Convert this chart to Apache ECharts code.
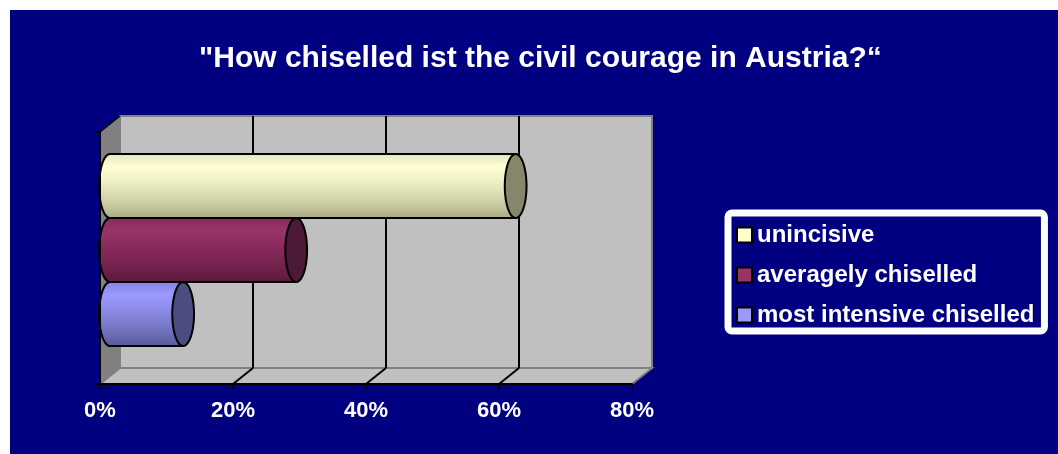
<!DOCTYPE html>
<html><head><meta charset="utf-8">
<script src="https://cdn.jsdelivr.net/npm/echarts@6/dist/echarts.min.js"></script>
<style>html,body{margin:0;padding:0;background:#fff;}#c{position:absolute;left:10px;top:10px;width:1048px;height:444px;}</style>
</head><body><div id="c"></div>
<script>
// ---- data ----
const titleText = '"How chiselled ist the civil courage in Austria?\u201C';
const categories = [''];
const seriesNames = ['unincisive', 'averagely chiselled', 'most intensive chiselled'];
const seriesValues = [61, 28, 11];
const xTicks = [0, 20, 40, 60, 80];

// ---- styles ----
const DX = 20, DY = 16; // 3D depth
const bodyStops = [
  [[0, '#e4e4bc'], [0.2, '#ffffd2'], [0.45, '#eeeec4'], [0.8, '#c8c8a0'], [1, '#a8a886']],
  [[0, '#86295a'], [0.2, '#9a3468'], [0.5, '#86295a'], [0.8, '#6e2049'], [1, '#5a1a3c']],
  [[0, '#8484e6'], [0.22, '#9a9aff'], [0.5, '#8686e0'], [0.8, '#6e6eb8'], [1, '#565696']]
];
const capColors = ['#86866a', '#4c1a36', '#4c4c80'];
const legendColors = ['#ffffcc', '#993366', '#9999ff'];

function grad(stops) {
  return { type: 'linear', x: 0, y: 0, x2: 0, y2: 1,
    colorStops: stops.map(s => ({ offset: s[0], color: s[1] })) };
}
function ellipsePts(cx, cy, rx, ry, a0, a1, n) {
  const pts = [];
  for (let k = 0; k <= n; k++) {
    const a = a0 + (a1 - a0) * k / n;
    pts.push([cx + rx * Math.cos(a), cy + ry * Math.sin(a)]);
  }
  return pts;
}

function frameRender(params, api) {
  const band = api.size([0, 1])[1];
  const c = api.coord([0, 0]);
  const top = c[1] - band / 2, bot = c[1] + band / 2;
  const xl = api.coord([xTicks[0], 0])[0];
  const xr = api.coord([xTicks[xTicks.length - 1], 0])[0];
  const ch = [];
  ch.push({ type: 'rect', shape: { x: xl + DX, y: top - DY, width: xr - xl, height: bot - top },
    style: { fill: '#c0c0c0', stroke: '#808080', lineWidth: 2 } });
  ch.push({ type: 'polygon', shape: { points: [[xl, top], [xl + DX, top - DY], [xl + DX, bot - DY], [xl, bot]] },
    style: { fill: '#808080', stroke: '#808080', lineWidth: 1 } });
  ch.push({ type: 'polygon', shape: { points: [[xl, bot], [xl + DX, bot - DY], [xr + DX, bot - DY], [xr, bot]] },
    style: { fill: '#c0c0c0', stroke: '#808080', lineWidth: 2 } });
  for (let i = 1; i < xTicks.length - 1; i++) {
    const x = api.coord([xTicks[i], 0])[0];
    ch.push({ type: 'line', shape: { x1: x + DX, y1: top - DY, x2: x + DX, y2: bot - DY },
      style: { stroke: '#000', lineWidth: 2 } });
    ch.push({ type: 'line', shape: { x1: x, y1: bot, x2: x + DX, y2: bot - DY },
      style: { stroke: '#000', lineWidth: 2 } });
  }
  ch.push({ type: 'line', shape: { x1: xl, y1: top, x2: xl + DX, y2: top - DY },
    style: { stroke: '#000', lineWidth: 1.5 } });
  return { type: 'group', children: ch };
}

function cylRender(idx) {
  return function (params, api) {
    const v = api.value(0);
    const c0 = api.coord([0, 0]);
    const c1 = api.coord([v, 0]);
    const band = api.size([0, 1])[1];
    const h = band * 0.254;
    const cy = c0[1] - DY / 2 + (idx - 1) * h;
    const x0 = c0[0] + DX / 2, x1 = c1[0] + DX / 2;
    const ry = h / 2, rx = h * 0.17;
    const body = [[x1, cy - ry]].concat(ellipsePts(x0, cy, rx, ry, -Math.PI / 2, -Math.PI * 1.5, 24)).concat([[x1, cy + ry]]);
    return { type: 'group', children: [
      { type: 'polygon', shape: { points: body }, style: { fill: grad(bodyStops[idx]), stroke: '#000', lineWidth: 2 } },
      { type: 'polygon', shape: { points: ellipsePts(x1, cy, rx, ry, 0, Math.PI * 2, 48) },
        style: { fill: capColors[idx], stroke: '#000', lineWidth: 2 } }
    ] };
  };
}

const series = [{
  type: 'custom', name: 'frame', silent: true, z: 1,
  renderItem: frameRender, data: [[0, 0]], encode: { x: 0, y: 1 }
}];
seriesNames.forEach((n, i) => {
  series.push({
    type: 'custom', name: n, z: 3, silent: true,
    itemStyle: { color: legendColors[i] },
    renderItem: cylRender(i),
    data: [[seriesValues[i], 0]], encode: { x: 0, y: 1 }
  });
});

const chart = echarts.init(document.getElementById('c'));
chart.setOption({
  backgroundColor: '#000080',
  animation: false,
  title: {
    text: titleText, left: 184, top: 29, padding: 5,
    textStyle: { color: '#fff', fontSize: 30, fontWeight: 'bold', fontFamily: 'Liberation Sans' }
  },
  legend: {
    data: seriesNames, orient: 'vertical', left: 718, top: 203,
    icon: 'rect', itemWidth: 15, itemHeight: 15, itemGap: 16,
    padding: [10, 10, 4, 8],
    backgroundColor: '#000080', borderColor: '#fff', borderWidth: 7, borderRadius: 4,
    itemStyle: { borderColor: '#000', borderWidth: 2 },
    textStyle: { color: '#fff', fontSize: 24, fontWeight: 'bold', fontFamily: 'Liberation Sans', lineHeight: 24 }
  },
  grid: { left: 90, top: 122, width: 532, height: 252, containLabel: false, outerBoundsMode: 'none' },
  xAxis: {
    type: 'value', min: xTicks[0], max: xTicks[xTicks.length - 1], interval: 20, z: 10,
    axisLine: { show: true, lineStyle: { color: '#000', width: 2 } },
    axisTick: { show: true, length: 5, lineStyle: { color: '#000', width: 2 } },
    splitLine: { show: false },
    axisLabel: { formatter: '{value}%', color: '#fff', fontSize: 22, fontWeight: 'bold',
      fontFamily: '"Liberation Sans", Arial', margin: 16 }
  },
  yAxis: {
    type: 'category', data: categories, z: 10,
    axisLine: { show: true, lineStyle: { color: '#000', width: 2 } },
    axisTick: { show: true, length: 4, lineStyle: { color: '#000', width: 2 } },
    axisLabel: { show: false }, splitLine: { show: false }
  },
  series: series
});
</script></body></html>
